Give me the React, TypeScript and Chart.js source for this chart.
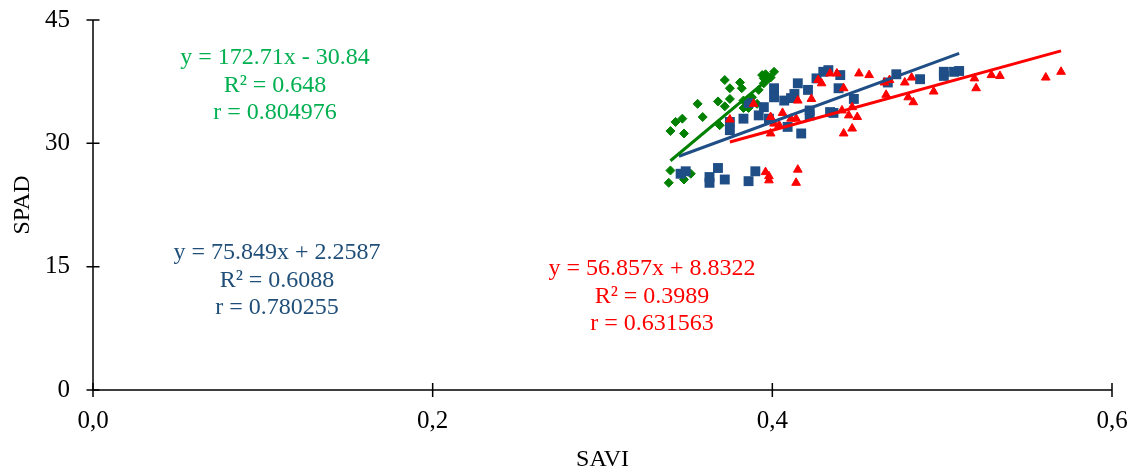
import { useEffect, useRef } from 'react';
import { Chart, registerables } from 'chart.js';

Chart.register(...registerables);

// ---------- Data ----------
const greenX = [0.339, 0.340, 0.348, 0.352, 0.340, 0.343, 0.347, 0.348, 0.356, 0.359, 0.368, 0.372, 0.375, 0.375, 0.372, 0.381, 0.382, 0.383, 0.383, 0.386, 0.388, 0.392, 0.395, 0.398, 0.401, 0.394, 0.396, 0.369, 0.391, 0.399, 0.395];
const greenY = [25.2, 26.7, 25.6, 26.3, 31.5, 32.6, 33.0, 31.2, 34.8, 33.2, 35.1, 37.7, 35.4, 36.7, 34.5, 37.4, 36.7, 35.2, 34.3, 34.3, 35.6, 36.5, 37.3, 37.9, 38.7, 38.3, 38.4, 32.2, 34.8, 38.0, 37.9];

const blueX = [0.346, 0.349, 0.363, 0.368, 0.363, 0.372, 0.386, 0.390, 0.375, 0.375, 0.383, 0.386, 0.395, 0.392, 0.398, 0.401, 0.401, 0.407, 0.411, 0.413, 0.415, 0.421, 0.426, 0.430, 0.433, 0.409, 0.417, 0.422, 0.422, 0.434, 0.440, 0.439, 0.448, 0.436, 0.468, 0.473, 0.487, 0.501, 0.501, 0.507, 0.510];
const blueY = [26.3, 26.6, 25.9, 27.0, 25.2, 25.6, 25.4, 26.6, 32.6, 31.6, 33.0, 34.9, 34.4, 33.4, 33.0, 36.7, 35.6, 35.2, 35.5, 36.0, 37.3, 36.5, 37.9, 38.7, 38.9, 32.0, 31.2, 34.0, 33.4, 33.8, 38.3, 36.7, 35.4, 33.7, 37.4, 38.4, 37.8, 38.2, 38.7, 38.7, 38.8];

const redX = [0.375, 0.389, 0.399, 0.401, 0.399, 0.404, 0.406, 0.411, 0.414, 0.415, 0.423, 0.427, 0.429, 0.434, 0.438, 0.442, 0.441, 0.445, 0.450, 0.447, 0.442, 0.447, 0.451, 0.457, 0.466, 0.469, 0.467, 0.478, 0.482, 0.480, 0.483, 0.495, 0.519, 0.520, 0.529, 0.534, 0.561, 0.570, 0.396, 0.398, 0.398, 0.415, 0.414];
const redY = [32.9, 34.8, 33.2, 32.4, 31.2, 32.2, 33.7, 33.0, 33.0, 35.2, 35.4, 37.7, 37.3, 38.5, 38.5, 36.7, 34.0, 33.4, 33.2, 34.4, 31.2, 31.8, 38.5, 38.3, 37.4, 37.7, 35.9, 37.4, 38.0, 35.6, 35.0, 36.3, 37.9, 36.7, 38.3, 38.2, 38.0, 38.7, 26.5, 25.5, 26.0, 26.8, 25.2];

// Trendline equations (slope, intercept) and x ranges shown
const trendSlope = [172.71, 75.849, 56.857];
const trendIntercept = [-30.84, 2.2587, 8.8322];
const trendXStart = [0.34, 0.345, 0.375];
const trendXEnd = [0.40, 0.51, 0.57];

const xTicks = [0, 0.2, 0.4, 0.6];
const yTicks = [0, 15, 30, 45];

const greenLabels = ['y = 172.71x - 30.84', 'R² = 0.648', 'r = 0.804976'];
const blueLabels = ['y = 75.849x + 2.2587', 'R² = 0.6088', 'r = 0.780255'];
const redLabels = ['y = 56.857x + 8.8322', 'R² = 0.3989', 'r = 0.631563'];

const GREEN_MARK = '#008000';
const GREEN_TEXT = '#00B050';
const BLUE = '#1F4E86';
const BLUE_TEXT = '#1F4E79';
const RED = '#FF0000';
const FONT = '"Liberation Serif", "Times New Roman", serif';

const pts = (xs: number[], ys: number[]) => xs.map((x, i) => ({ x, y: ys[i] }));
const trend = (i: number) => [
  { x: trendXStart[i], y: trendSlope[i] * trendXStart[i] + trendIntercept[i] },
  { x: trendXEnd[i], y: trendSlope[i] * trendXEnd[i] + trendIntercept[i] },
];

const decorPlugin = {
  id: 'decor',
  afterDraw(chart: any) {
    const ctx = chart.ctx;
    const xs = chart.scales.x;
    const ys = chart.scales.y;
    const area = chart.chartArea;
    ctx.save();
    ctx.strokeStyle = '#000';
    ctx.lineWidth = 1.5;
    // axes
    ctx.beginPath();
    ctx.moveTo(area.left, ys.getPixelForValue(45));
    ctx.lineTo(area.left, ys.getPixelForValue(0));
    ctx.lineTo(xs.getPixelForValue(0.6), ys.getPixelForValue(0));
    ctx.stroke();
    // crossing ticks
    ctx.beginPath();
    xTicks.forEach((v) => {
      const px = xs.getPixelForValue(v);
      const py = ys.getPixelForValue(0);
      ctx.moveTo(px, py - 7);
      ctx.lineTo(px, py + 7);
    });
    yTicks.forEach((v) => {
      const py = ys.getPixelForValue(v);
      ctx.moveTo(area.left - 6.5, py);
      ctx.lineTo(area.left + 6.5, py);
    });
    ctx.stroke();
    // annotations
    ctx.font = '24px ' + FONT;
    ctx.textAlign = 'center';
    ctx.textBaseline = 'middle';
    const drawBlock = (lines: string[], cx: number, cy: number, color: string) => {
      ctx.fillStyle = color;
      lines.forEach((l, i) => ctx.fillText(l, cx, cy + i * 27.5));
    };
    drawBlock(greenLabels, 275, 58, GREEN_TEXT);
    drawBlock(blueLabels, 277, 253, BLUE_TEXT);
    drawBlock(redLabels, 652, 269, RED);
    ctx.restore();
  },
};

export default function App() {
  const ref = useRef<HTMLCanvasElement | null>(null);
  useEffect(() => {
    if (!ref.current) return;
    const chart = new Chart(ref.current, {
      type: 'scatter',
      data: {
        datasets: [
          {
            label: 'trend green',
            data: trend(0),
            showLine: true,
            borderColor: GREEN_MARK,
            borderWidth: 3,
            pointRadius: 0,
            order: 1,
          },
          {
            label: 'trend blue',
            data: trend(1),
            showLine: true,
            borderColor: BLUE,
            borderWidth: 3,
            pointRadius: 0,
            order: 1,
          },
          {
            label: 'trend red',
            data: trend(2),
            showLine: true,
            borderColor: RED,
            borderWidth: 3,
            pointRadius: 0,
            order: 1,
          },
          {
            label: 'red',
            data: pts(redX, redY),
            pointStyle: 'triangle',
            pointRadius: 5,
            backgroundColor: RED,
            borderColor: RED,
            borderWidth: 1,
            order: 2,
          },
          {
            label: 'blue',
            data: pts(blueX, blueY),
            pointStyle: 'rect',
            pointRadius: 7,
            backgroundColor: BLUE,
            borderColor: BLUE,
            borderWidth: 0,
            order: 3,
          },
          {
            label: 'green',
            data: pts(greenX, greenY),
            pointStyle: 'rectRot',
            pointRadius: 4.5,
            backgroundColor: GREEN_MARK,
            borderColor: GREEN_MARK,
            borderWidth: 1,
            order: 4,
          },
        ],
      },
      options: {
        animation: false,
        responsive: true,
        maintainAspectRatio: false,
        layout: { padding: { top: 20, right: 23, left: 0, bottom: 0 } },
        plugins: { legend: { display: false }, tooltip: { enabled: false } },
        scales: {
          x: {
            type: 'linear',
            min: 0,
            max: 0.6,
            afterBuildTicks: (s: any) => {
              s.ticks = xTicks.map((v) => ({ value: v }));
            },
            afterFit: (s: any) => {
              s.height = 84;
              s.paddingLeft = 0;
              s.paddingRight = 0;
            },
            grid: { display: false, drawTicks: false },
            border: { display: false },
            ticks: {
              color: '#000',
              padding: 16,
              font: { family: FONT, size: 25 },
              callback: (v: any) => Number(v).toFixed(1).replace('.', ','),
            },
            title: {
              display: true,
              text: 'SAVI',
              color: '#000',
              font: { family: FONT, size: 24 },
              padding: { top: 0, bottom: 0 },
            },
          },
          y: {
            type: 'linear',
            min: 0,
            max: 45,
            afterBuildTicks: (s: any) => {
              s.ticks = yTicks.map((v) => ({ value: v }));
            },
            afterFit: (s: any) => {
              s.width = 93;
              s.paddingTop = 0;
              s.paddingBottom = 0;
            },
            grid: { display: false, drawTicks: false },
            border: { display: false },
            ticks: {
              color: '#000',
              padding: 23,
              font: { family: FONT, size: 25 },
            },
            title: {
              display: true,
              text: 'SPAD',
              color: '#000',
              font: { family: FONT, size: 24 },
              padding: { top: 8, bottom: 0 },
            },
          },
        },
      },
      plugins: [decorPlugin],
    } as any);
    return () => chart.destroy();
  }, []);
  return (
    <div style={{ position: 'fixed', left: 0, top: 0, width: 1135, height: 474, background: '#fff' }}>
      <canvas ref={ref} />
    </div>
  );
}
